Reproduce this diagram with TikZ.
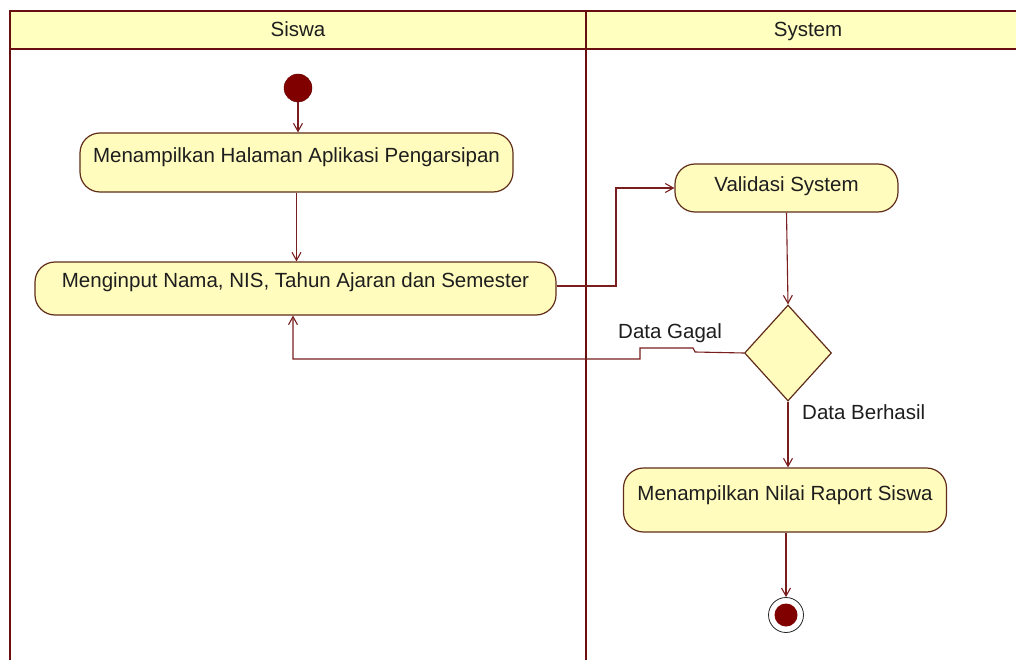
\documentclass[tikz,border=0pt]{standalone}
\usepackage{fontspec}
\setmainfont{Liberation Sans}
\usetikzlibrary{arrows.meta,shapes.geometric}
\definecolor{lane}{RGB}{105,15,15}
\definecolor{hdr}{RGB}{255,255,192}
\definecolor{act}{RGB}{255,252,190}
\definecolor{actb}{RGB}{95,45,25}
\definecolor{conn}{RGB}{120,30,30}
\definecolor{txt}{RGB}{30,30,30}
\definecolor{dot}{RGB}{128,0,0}
\begin{document}
\begin{tikzpicture}[x=1pt,y=-1pt,
  action/.style={draw=actb, fill=act, line width=1.2pt, rounded corners=20pt,
    inner xsep=0pt, inner ysep=0pt, font=\fontsize{20.5}{24}\selectfont, text=txt},
  flow/.style={draw=conn, line width=1.1pt, -{Straight Barb[length=8pt,width=9pt]}},
  lbl/.style={font=\fontsize{20.5}{24}\selectfont, text=txt, inner sep=0pt},
  lanebox/.style={draw=lane, line width=2.8pt},
]
\useasboundingbox (0,0) rectangle (1016,660);
\clip (0,0) rectangle (1016,660);
\fill[white] (0,0) rectangle (1016,660);
% swimlanes
\fill[hdr] (10,11) rectangle (1040,49);
\draw[lanebox] (10,690) -- (10,11) -- (1040,11);
\draw[lanebox] (10,49) -- (1040,49);
\draw[lanebox] (586,11) -- (586,690);
\node[lbl, anchor=base] (hs) at (298,37) {Siswa};
\node[lbl, anchor=base] (hy) at (808,37) {System};
% nodes
\node[circle, fill=dot, draw=dot!80!black, minimum size=28pt, inner sep=0pt] (start) at (298,88) {};
\node[action, minimum width=433pt, text height=30pt, text depth=29pt] (a1) at (296.5,162.5)
  {Menampilkan Halaman Aplikasi Pengarsipan};
\node[action, minimum width=521pt, text height=25pt, text depth=28pt] (a2) at (295.5,288.5)
  {Menginput Nama, NIS, Tahun Ajaran dan Semester};
\node[action, minimum width=223pt, text height=28pt, text depth=20pt] (val) at (786.5,188)
  {Validasi System};
\node[diamond, draw=actb, fill=act, line width=1.2pt, minimum width=87pt, minimum height=96pt,
  inner sep=0pt] (dec) at (788,353) {};
\node[action, minimum width=323pt, text height=32pt, text depth=32pt] (a3) at (785,500)
  {Menampilkan Nilai Raport Siswa};
\node[circle, draw=black!85, line width=0.8pt, fill=white, minimum size=35pt, inner sep=0pt] (end) at (786,615) {};
\node[circle, fill=dot, minimum size=23pt, inner sep=0pt] (endin) at (end.center) {};
% labels
\node[lbl, anchor=base west] (lg) at (618,338) {Data Gagal};
\node[lbl, anchor=base west] (lb) at (802,419) {Data Berhasil};
% connectors
\coordinate (c1) at (616,286);
\coordinate (g1) at (695,352);
\coordinate (g2) at (693,348);
\coordinate (g3) at (640,348);
\coordinate (g4) at (640,359);
\coordinate (g5) at (293,359);
\draw[flow] (start) -- (start |- a1.north);
\draw[flow] (a1.south) -- (a1.south |- a2.north);
\draw[flow] (a2.east |- c1) -- (c1) |- (val.west);
\draw[flow] (val.south) -- (dec.north);
\draw[flow] (dec.west) -- (g1) -- (g2) -- (g3) -- (g4) -- (g5) -- (g5 |- a2.south);
\draw[flow] (dec.south) -- (dec.south |- a3.north);
\draw[flow] (a3.south -| end) -- (end);
\end{tikzpicture}
\end{document}
